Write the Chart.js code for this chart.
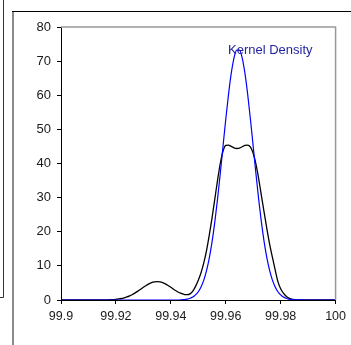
<!DOCTYPE html>
<html lang="en">
<head>
  <meta charset="UTF-8">
  <title>Kernel Density</title>
  <script src="https://cdn.jsdelivr.net/npm/chart.js"></script>
  <style>
    html, body { margin: 0; padding: 0; background: #fff; }
    #wrap { width: 351px; height: 345px; }
  </style>
</head>
<body>
  <div id="wrap">
    <canvas id="densidade" width="351" height="345"></canvas>
  </div>
<script>
  // x grid
  const xs = [
    99.9,
    99.910, 99.911, 99.912, 99.913, 99.914, 99.915, 99.916, 99.917, 99.918, 99.919,
    99.920, 99.921, 99.922, 99.923, 99.924, 99.925, 99.926, 99.927, 99.928, 99.929,
    99.930, 99.931, 99.932, 99.933, 99.934, 99.935, 99.936, 99.937, 99.938, 99.939,
    99.940, 99.941, 99.942, 99.943, 99.944, 99.945, 99.946, 99.947, 99.948, 99.949,
    99.950, 99.951, 99.952, 99.953, 99.954, 99.955, 99.956, 99.957, 99.958, 99.959,
    99.960, 99.961, 99.962, 99.963, 99.964, 99.965, 99.966, 99.967, 99.968, 99.969,
    99.970, 99.971, 99.972, 99.973, 99.974, 99.975, 99.976, 99.977, 99.978, 99.979,
    99.980, 99.981, 99.982, 99.983, 99.984, 99.985, 99.986, 99.987, 99.988, 99.989,
    99.990,
    100
  ];

  // black curve
  const densidadeEmpirica = [
    0,
    0, 0, 0, 0, 0, 0.01, 0.03, 0.05, 0.07, 0.12,
    0.19, 0.3, 0.44, 0.64, 0.89, 1.22, 1.62, 2.09, 2.61, 3.16,
    3.72, 4.25, 4.72, 5.1, 5.32, 5.4, 5.32, 5.1, 4.72, 4.25,
    3.72, 3.16, 2.65, 2.2, 1.85, 1.6, 1.55, 1.8, 2.6, 4.0,
    5.8, 8.0, 10.9, 14.5, 19.0, 24.0, 29.5, 35.0, 40.0, 43.6,
    45.3, 45.4, 45.0, 44.6, 44.4, 44.5, 44.9, 45.3, 45.4, 44.8,
    43.0, 39.8, 35.5, 30.5, 25.6, 20.8, 16.3, 12.5, 8.8, 5.4,
    3.3, 2.0, 1.1, 0.55, 0.25, 0.1, 0.05, 0.02, 0, 0,
    0,
    0
  ];

  // blue curve
  const densidadeKernel = [
    0,
    0, 0, 0, 0, 0, 0, 0, 0, 0, 0,
    0, 0, 0, 0, 0, 0, 0, 0, 0, 0,
    0, 0, 0, 0, 0, 0, 0, 0, 0, 0,
    0, 0, 0, 0, 0.08, 0.15, 0.28, 0.51, 0.88, 1.49,
    2.42, 3.81, 5.81, 8.59, 12.27, 16.98, 22.75, 29.5, 37.0, 45.0,
    52.9, 60.2, 66.4, 70.9, 73.2, 73.2, 70.9, 66.4, 60.2, 52.9,
    45.0, 37.0, 29.5, 22.75, 16.98, 12.27, 8.59, 5.81, 3.81, 2.42,
    1.49, 0.88, 0.51, 0.28, 0.15, 0.08, 0.04, 0.02, 0.01, 0,
    0,
    0
  ];

  const xTicks = [99.9, 99.92, 99.94, 99.96, 99.98, 100];
  const xTickLabels = ['99.9', '99.92', '99.94', '99.96', '99.98', '100'];
  const yTicks = [0, 10, 20, 30, 40, 50, 60, 70, 80];
  const rotuloLegenda = 'Kernel Density';

  function pares(valores) {
    return xs.map(function (x, i) { return { x: x, y: valores[i] }; });
  }

  // frame lines around the panel + gray top/right plot border + label
  const moldura = {
    id: 'moldura',
    beforeDraw(chart) {
      const ctx = chart.ctx;
      ctx.save();
      ctx.fillStyle = '#fff';
      ctx.fillRect(0, 0, chart.width, chart.height);
      ctx.restore();
    },
    afterDraw(chart) {
      const ctx = chart.ctx;
      const a = chart.chartArea;
      ctx.save();
      // neighbour panel edge
      ctx.strokeStyle = '#333';
      ctx.lineWidth = 1;
      ctx.beginPath();
      ctx.moveTo(3.5, 0);
      ctx.lineTo(3.5, 297.5);
      ctx.lineTo(0, 297.5);
      ctx.stroke();
      // panel left edge
      ctx.strokeStyle = '#8a8a8a';
      ctx.lineWidth = 2;
      ctx.beginPath();
      ctx.moveTo(13, 11);
      ctx.lineTo(13, chart.height);
      ctx.stroke();
      // panel top edge
      ctx.strokeStyle = '#000';
      ctx.lineWidth = 1;
      ctx.beginPath();
      ctx.moveTo(12, 11.5);
      ctx.lineTo(chart.width, 11.5);
      ctx.stroke();
      // plot top/right border
      ctx.strokeStyle = '#999';
      ctx.lineWidth = 1.5;
      ctx.beginPath();
      ctx.moveTo(a.left, a.top);
      ctx.lineTo(a.right, a.top);
      ctx.lineTo(a.right, a.bottom);
      ctx.stroke();
      // label
      ctx.fillStyle = '#1f1f9f';
      ctx.font = '13px "Liberation Sans", Arial, sans-serif';
      ctx.textAlign = 'left';
      ctx.textBaseline = 'alphabetic';
      ctx.fillText(rotuloLegenda, 228, 54);
      ctx.restore();
    }
  };

  const grafico = document.getElementById('densidade').getContext('2d');

  new Chart(grafico, {
    type: 'line',
    data: {
      datasets: [
        {
          label: rotuloLegenda,
          data: pares(densidadeKernel),
          borderColor: '#0000ff',
          borderWidth: 1.2,
          pointRadius: 0,
          cubicInterpolationMode: 'monotone',
          fill: false,
          order: 0
        },
        {
          label: 'Density',
          data: pares(densidadeEmpirica),
          borderColor: '#000000',
          borderWidth: 1.3,
          pointRadius: 0,
          cubicInterpolationMode: 'monotone',
          fill: false,
          order: 1
        }
      ]
    },
    options: {
      responsive: false,
      animation: false,
      devicePixelRatio: 1,
      layout: { padding: { left: 0, top: 27, right: 9, bottom: 0 } },
      plugins: {
        legend: { display: false },
        tooltip: { enabled: false }
      },
      scales: {
        x: {
          type: 'linear',
          min: 99.9,
          max: 100,
          afterBuildTicks: function (scale) {
            scale.ticks = xTicks.map(function (v) { return { value: v }; });
          },
          afterFit: function (scale) { scale.height = 45; },
          ticks: {
            autoSkip: false,
            maxRotation: 0,
            padding: 5,
            color: '#1a1a1a',
            font: { family: '"Liberation Sans", Arial, sans-serif', size: 12.5 },
            callback: function (v) {
              const i = xTicks.findIndex(function (t) { return Math.abs(t - v) < 1e-9; });
              return i >= 0 ? xTickLabels[i] : '';
            }
          },
          grid: { drawOnChartArea: false, drawTicks: true, tickLength: 4, color: '#000' },
          border: { display: true, color: '#000', width: 1 }
        },
        y: {
          min: 0,
          max: 80,
          afterBuildTicks: function (scale) {
            scale.ticks = yTicks.map(function (v) { return { value: v }; });
          },
          afterFit: function (scale) { scale.width = 61; },
          ticks: {
            padding: 6,
            color: '#1a1a1a',
            font: { family: '"Liberation Sans", Arial, sans-serif', size: 13 }
          },
          grid: { drawOnChartArea: false, drawTicks: true, tickLength: 4, color: '#000' },
          border: { display: true, color: '#000', width: 1 }
        }
      }
    },
    plugins: [moldura]
  });
</script>
</body>
</html>
